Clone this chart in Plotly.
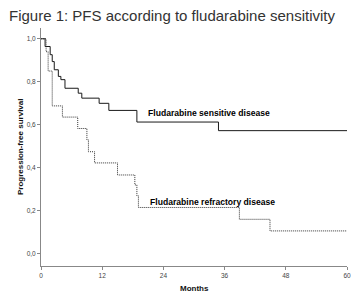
import plotly.graph_objects as go

# Kaplan-Meier step data
sens_months = [0, 0.8, 1.8, 2.2, 2.6, 3.4, 3.9, 4.7, 7.3, 8.0, 11.4, 13.3, 18.8, 34.8, 60]
sens_surv = [1.0, 0.964, 0.926, 0.894, 0.856, 0.825, 0.81, 0.77, 0.747, 0.724, 0.70, 0.667, 0.613, 0.573, 0.573]

refr_months = [0, 1.0, 1.4, 2.2, 4.2, 7.2, 9.0, 9.3, 10.5, 15.0, 18.4, 18.8, 19.1, 38.9, 44.9, 60]
refr_surv = [1.0, 0.94, 0.85, 0.688, 0.636, 0.583, 0.53, 0.475, 0.423, 0.367, 0.321, 0.27, 0.216, 0.161, 0.107, 0.107]

x_ticks = [0, 12, 24, 36, 48, 60]
y_ticks = [0.0, 0.2, 0.4, 0.6, 0.8, 1.0]
y_tick_labels = ["0,0", "0,2", "0,4", "0,6", "0,8", "1,0"]

title_text = "Figure 1: PFS according to fludarabine sensitivity"
label_sens = "Fludarabine sensitive disease"
label_refr = "Fludarabine refractory disease"

fig = go.Figure()
fig.add_trace(go.Scatter(x=sens_months, y=sens_surv, mode="lines", line_shape="hv",
                         line=dict(color="#1a1a1a", width=1), showlegend=False))
fig.add_trace(go.Scatter(x=refr_months, y=refr_surv, mode="lines", line_shape="hv",
                         line=dict(color="#333333", width=1, dash="1px,1px"), showlegend=False))

lab_font = dict(family="Liberation Sans", size=8.6, color="#000000")
fig.add_annotation(x=20.6, y=0.656, text="<b>" + label_sens + "</b>", showarrow=False,
                   xanchor="left", yanchor="middle", font=lab_font)
fig.add_annotation(x=21.0, y=0.243, text="<b>" + label_refr + "</b>", showarrow=False,
                   xanchor="left", yanchor="middle", font=lab_font)

fig.add_annotation(xref="paper", yref="paper", x=0, xshift=-21, y=0.5, text="<b>Progression-free survival</b>",
                   textangle=-90, showarrow=False, font=dict(family="Liberation Sans", size=8, color="#111111"),
                   xanchor="center", yanchor="middle")
fig.add_annotation(xref="paper", yref="paper", x=0.5, y=0, yshift=-16, text="<b>Months</b>",
                   showarrow=False, font=dict(family="Liberation Sans", size=8, color="#111111"),
                   xanchor="center", yanchor="top")
fig.add_annotation(xref="paper", yref="paper", x=0, xshift=-34, y=1.0, yshift=13, text=title_text,
                   showarrow=False, font=dict(family="Liberation Sans", size=15, color="#333333"),
                   xanchor="left", yanchor="middle")

axis_common = dict(showgrid=False, zeroline=False, showline=True, linecolor="#888888", linewidth=1,
                   ticks="outside", ticklen=3, tickcolor="#888888",
                   tickfont=dict(family="Liberation Sans", size=6.5, color="#444444"))
fig.update_xaxes(range=[0, 60], tickvals=x_ticks, ticktext=[str(v) for v in x_ticks], **axis_common)
fig.update_yaxes(range=[-0.056, 1.05], tickvals=y_ticks, ticktext=y_tick_labels, **axis_common)

fig.update_layout(width=356, height=296, margin=dict(l=33, r=17, t=20, b=38),
                  plot_bgcolor="white", paper_bgcolor="white")
fig.write_html("out.html")
